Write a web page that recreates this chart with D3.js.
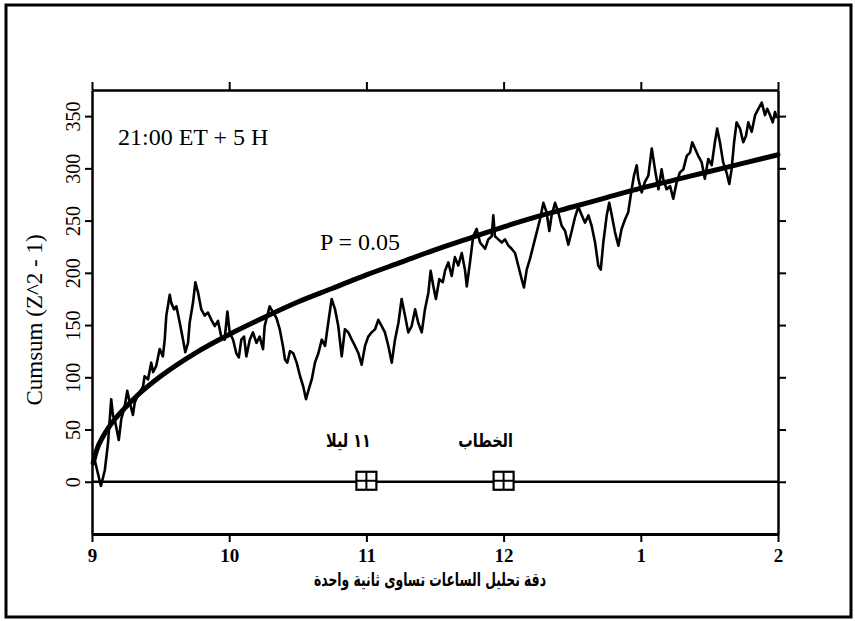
<!DOCTYPE html>
<html>
<head>
<meta charset="utf-8">
<script src="https://cdn.jsdelivr.net/npm/d3@7/dist/d3.min.js"></script>
<style>
  html, body { margin: 0; padding: 0; background: #fff; }
  svg { display: block; }
</style>
</head>
<body>
<svg id="chart" width="855" height="621"></svg>
<script>
// Time axis: minutes after 21:00, labelled by clock hour
const hourTicks = [0, 60, 120, 180, 240, 300];
const hourLabels = ["9", "10", "11", "12", "1", "2"];
const valueTicks = [0, 50, 100, 150, 200, 250, 300, 350];

// Cumulative sum of (Z^2 - 1)
const cumsumMinutes = [
  0.4, 3.9, 5.6, 7.0, 8.4, 9.2, 9.9, 11.7, 12.8, 14.3, 15.4, 16.5, 17.9, 18.7, 20.1, 22.3,
  23.0, 24.5, 25.9, 26.7, 28.1, 29.6, 31.0, 31.8, 32.5, 34.0, 34.7, 35.9, 36.9, 38.4, 39.8,
  40.8, 42.0, 42.7, 44.2, 45.2, 46.4, 47.8, 49.3, 50.7, 52.2, 53.7, 55.1, 56.5, 58.0, 59.2,
  60.2, 61.7, 63.1, 64.2, 65.3, 66.5, 67.5, 69.0, 70.4, 71.9, 73.3, 74.8, 75.5, 77.7, 79.2,
  80.6, 82.1, 83.5, 84.4, 85.4, 86.6, 88.0, 89.5, 91.0, 92.4, 93.6, 94.6, 96.1, 97.5, 99.0,
  100.5, 101.9, 103.3, 104.8, 106.3, 107.7, 109.2, 110.6, 112.1, 113.6, 115.0, 116.5, 117.9,
  119.4, 120.8, 122.3, 123.8, 125.2, 126.7, 128.1, 129.6, 131.1, 132.5, 134.0, 135.4, 136.9,
  138.3, 139.8, 141.3, 142.7, 144.2, 145.6, 147.1, 148.1, 149.3, 150.4, 151.9, 153.4, 154.4,
  155.8, 157.3, 158.7, 160.2, 161.7, 163.1, 163.9, 165.3, 166.7, 168.2, 169.7, 171.9, 173.3,
  174.8, 175.5, 176.2, 177.7, 179.2, 180.6, 182.1, 183.5, 185.0, 186.4, 187.9, 188.9, 190.1,
  191.5, 193.0, 194.5, 195.9, 197.4, 198.8, 200.0, 201.0, 202.5, 203.9, 205.4, 206.9, 208.3,
  209.8, 211.2, 212.7, 214.2, 215.6, 217.1, 218.5, 220.0, 221.4, 222.5, 223.6, 225.1, 226.2,
  227.3, 228.7, 230.2, 231.6, 233.1, 234.5, 236.0, 237.0, 238.2, 238.9, 240.4, 241.8, 243.3,
  244.8, 246.2, 247.7, 249.1, 249.8, 251.3, 252.8, 254.2, 255.7, 257.1, 258.6, 260.1, 261.5,
  262.5, 263.7, 265.1, 266.6, 268.0, 269.5, 271.0, 272.4, 273.4, 274.6, 276.0, 277.5, 278.7,
  279.7, 280.8, 281.9, 283.4, 284.8, 286.0, 287.0, 288.5, 290.0, 291.4, 292.9, 294.3, 295.3,
  296.5, 297.7, 298.7, 299.4
];
const cumsumValues = [
  28, -4, 11, 37, 79, 63, 60, 40, 60, 72, 87, 76, 64, 76, 83, 91,
  101, 98, 114, 105, 111, 127, 120, 136, 159, 179, 171, 165, 168, 152, 136,
  124, 133, 152, 172, 191, 181, 165, 159, 162, 155, 149, 154, 139, 136, 163,
  143, 136, 123, 119, 136, 139, 120, 136, 143, 133, 139, 127, 149, 168, 162,
  157, 146, 130, 117, 114, 125, 123, 114, 101, 91, 79, 87, 98, 114, 123,
  136, 130, 152, 175, 165, 149, 120, 146, 143, 136, 130, 123, 112,
  130, 139, 143, 146, 155, 149, 143, 130, 114, 136, 152, 175, 159,
  143, 149, 165, 152, 143, 165, 181, 202, 187, 175, 194, 191, 202,
  210, 197, 215, 207, 219, 203, 187, 210, 235, 242, 229, 223, 232,
  235, 255, 235, 232, 229, 232, 226, 223, 219, 207, 194, 186, 203,
  213, 226, 239, 251, 267, 258, 240, 255, 267, 258, 245, 240, 227,
  240, 253, 263, 255, 248, 255, 245, 229, 207, 203, 229, 255, 267,
  255, 239, 226, 242, 251, 258, 280, 293, 303, 290, 277, 287, 293,
  319, 299, 280, 299, 290, 280, 283, 271, 287, 296, 299, 312, 315,
  325, 319, 312, 306, 290, 309, 303, 325, 338, 325, 306, 296, 285,
  299, 325, 344, 338, 325, 331, 344, 335, 351, 357, 363, 351, 357,
  351, 344, 354, 348
];

// P = 0.05 significance envelope
const thresholdMinutes = [0.5, 2, 5, 10, 15, 20, 30, 45, 60, 75, 90, 105, 120, 135, 150, 165, 180, 195, 210, 225, 240, 255, 270, 285, 300];
const thresholdValues  = [18, 30, 44, 60, 72, 83, 101, 123, 141, 157, 172, 185, 198, 210, 222, 233, 244, 254, 263, 272, 281, 289, 297, 305, 313];

// Marked events on the time line
const eventMinutes = [120, 180];
const eventLabels = ["١١ ليلا", "الخطاب"];
const xTitle = "دقة تحليل الساعات تساوى ثانية واحدة";

const SERIF = '"Liberation Serif", Tinos, "Times New Roman", serif';
const ARABIC = '"DejaVu Sans", sans-serif';

const svg = d3.select("#chart");

// page frame
svg.append("rect")
  .attr("x", 6).attr("y", 5).attr("width", 845).attr("height", 612)
  .attr("fill", "none").attr("stroke", "#000").attr("stroke-width", 3);

const x = d3.scaleLinear().domain([0, 300]).range([92, 778]);
const y = d3.scaleLinear().domain([-50, 375]).range([534, 90]);

function styleAxis(g, w) {
  g.attr("font-family", null);
  g.select(".domain").attr("stroke", "#000").attr("stroke-width", w);
  g.selectAll(".tick line").attr("stroke", "#000").attr("stroke-width", 2);
}

// bottom axis with hour labels
const gBottom = svg.append("g").attr("transform", `translate(0,${y(-50)})`)
  .call(d3.axisBottom(x).tickValues(hourTicks).tickFormat((d, i) => hourLabels[i]).tickSize(8).tickSizeOuter(0).tickPadding(7));
styleAxis(gBottom, 3);
gBottom.selectAll(".tick text")
  .style("font-family", SERIF).style("font-weight", "bold").style("font-size", "19px").attr("fill", "#000");

// top axis, ticks only
const gTop = svg.append("g").attr("transform", `translate(0,${y(375)})`)
  .call(d3.axisTop(x).tickValues(hourTicks).tickFormat("").tickSize(8).tickSizeOuter(0));
styleAxis(gTop, 2.5);

// left axis with rotated labels
const gLeft = svg.append("g").attr("transform", `translate(${x(0)},0)`)
  .call(d3.axisLeft(y).tickValues(valueTicks).tickSize(7).tickSizeOuter(0).tickPadding(0));
styleAxis(gLeft, 2.5);
gLeft.selectAll(".tick text")
  .style("font-family", SERIF).style("font-size", "20px").attr("fill", "#000")
  .attr("text-anchor", "middle").attr("dy", 0).attr("x", 0)
  .attr("transform", "translate(-12,0) rotate(-90)");

// right axis, ticks only
const gRight = svg.append("g").attr("transform", `translate(${x(300)},0)`)
  .call(d3.axisRight(y).tickValues(valueTicks).tickFormat("").tickSize(8).tickSizeOuter(0));
styleAxis(gRight, 2.5);

// zero reference line
svg.append("line")
  .attr("x1", x(0)).attr("x2", x(300)).attr("y1", y(0)).attr("y2", y(0))
  .attr("stroke", "#000").attr("stroke-width", 2.5);

// significance envelope
const threshold = thresholdMinutes.map((m, i) => [m, thresholdValues[i]]);
svg.append("path")
  .datum(threshold)
  .attr("fill", "none").attr("stroke", "#000").attr("stroke-width", 5).attr("stroke-linecap", "round")
  .attr("d", d3.line().x(d => x(d[0])).y(d => y(d[1])).curve(d3.curveMonotoneX));

// cumulative deviation trace
const cumsum = cumsumMinutes.map((m, i) => [m, cumsumValues[i]]);
svg.append("path")
  .datum(cumsum)
  .attr("fill", "none").attr("stroke", "#000").attr("stroke-width", 2.6).attr("stroke-linejoin", "round")
  .attr("d", d3.line().x(d => x(d[0])).y(d => y(d[1])));

// event markers
const ev = svg.append("g").selectAll("g").data(eventMinutes).join("g")
  .attr("transform", d => `translate(${x(d)},${y(0) - 1})`);
ev.append("rect").attr("x", -10).attr("y", -9).attr("width", 20).attr("height", 18)
  .attr("fill", "#fff").attr("stroke", "#000").attr("stroke-width", 2.2);
ev.append("line").attr("x1", 0).attr("x2", 0).attr("y1", -9).attr("y2", 9).attr("stroke", "#000").attr("stroke-width", 2);
ev.append("line").attr("x1", -10).attr("x2", 10).attr("y1", 0).attr("y2", 0).attr("stroke", "#000").attr("stroke-width", 2);

// Arabic text, narrowed horizontally
function arabicText(str, cx, baseline, fontSize, sx) {
  svg.append("g")
    .attr("transform", `translate(${cx},${baseline}) scale(${sx},1)`)
    .append("text")
    .attr("text-anchor", "middle")
    .style("font-family", ARABIC).style("font-weight", "bold").style("font-size", fontSize + "px")
    .text(str);
}

eventMinutes.forEach((m, i) => arabicText(eventLabels[i], x(m) - 18, y(0) - 35, 19, 0.76));
arabicText(xTitle, 430, 586, 19, 0.65);

// annotations
svg.append("text").attr("x", 118).attr("y", 145)
  .style("font-family", SERIF).style("font-size", "24px").text("21:00 ET + 5 H");
svg.append("text").attr("x", 320).attr("y", 250)
  .style("font-family", SERIF).style("font-size", "24px").text("P = 0.05");

// y axis title
svg.append("text")
  .attr("transform", "translate(42,320) rotate(-90)")
  .attr("text-anchor", "middle")
  .style("font-family", SERIF).style("font-size", "23px").text("Cumsum (Z^2 - 1)");
</script>
</body>
</html>
